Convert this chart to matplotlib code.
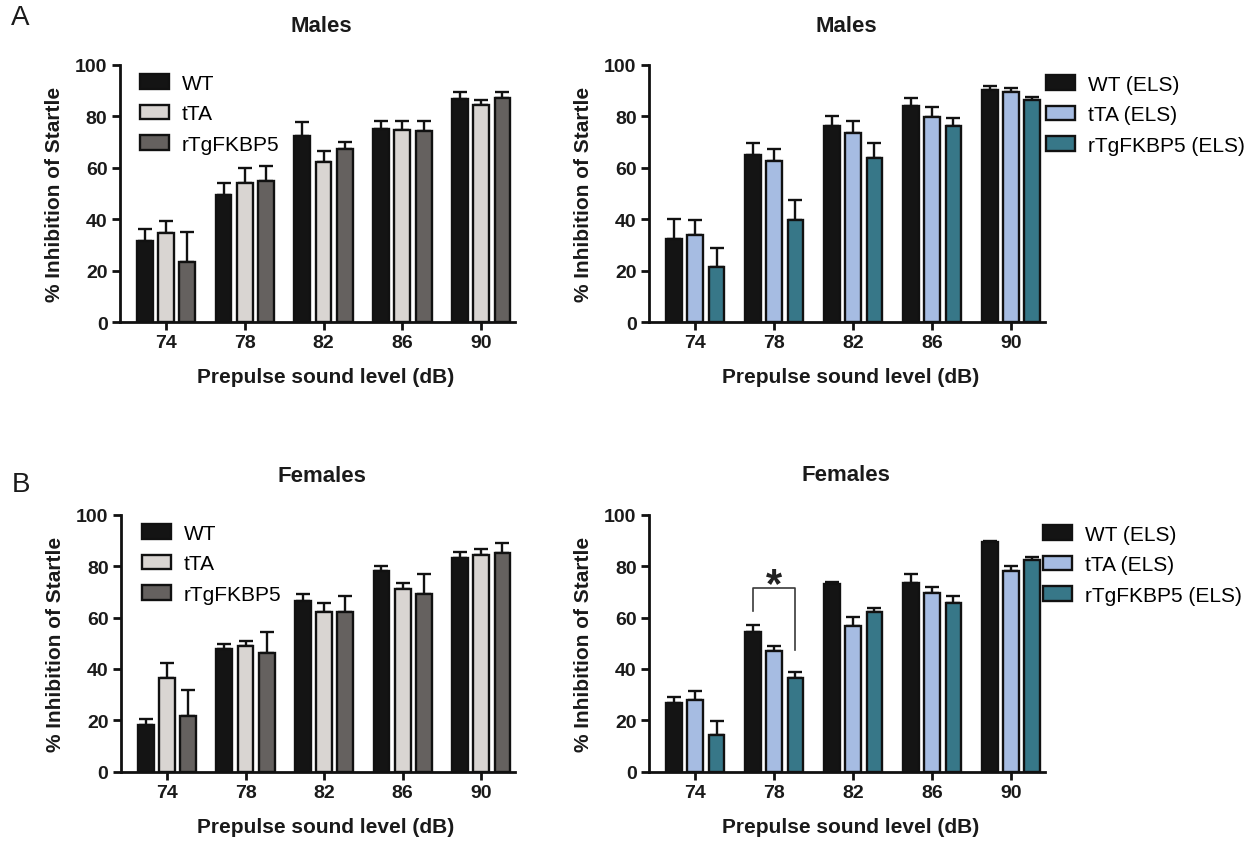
import numpy as np
import matplotlib
matplotlib.use("Agg")
import matplotlib.pyplot as plt
from matplotlib.patches import Patch

plt.rcParams['font.family'] = ['Liberation Sans', 'DejaVu Sans']

# ---------------- data ----------------
levels = ["74", "78", "82", "86", "90"]
groups_ctrl = ["WT", "tTA", "rTgFKBP5"]
groups_els = ["WT (ELS)", "tTA (ELS)", "rTgFKBP5 (ELS)"]

# Males (control)
m_wt = [31.4, 49.5, 72.4, 74.9, 86.7]
m_wt_err = [4.8, 4.4, 5.2, 3.1, 2.6]
m_tta = [34.5, 54.2, 62.0, 74.8, 84.3]
m_tta_err = [4.6, 5.8, 4.4, 3.2, 2.1]
m_rtg = [23.3, 54.7, 67.3, 74.3, 86.9]
m_rtg_err = [11.6, 6.1, 2.6, 3.7, 2.4]

# Males (ELS)
me_wt = [32.1, 64.9, 76.3, 84.1, 90.2]
me_wt_err = [8.0, 4.7, 3.9, 2.8, 1.6]
me_tta = [33.9, 62.7, 73.4, 79.8, 89.3]
me_tta_err = [5.9, 4.6, 4.9, 3.6, 1.5]
me_rtg = [21.3, 39.8, 63.6, 76.1, 86.3]
me_rtg_err = [7.4, 7.7, 5.9, 3.2, 1.3]

# Females (control)
f_wt = [18.2, 47.7, 66.4, 78.2, 83.0]
f_wt_err = [2.3, 2.1, 2.9, 2.0, 2.3]
f_tta = [36.3, 49.0, 62.3, 71.1, 84.3]
f_tta_err = [5.9, 2.0, 3.2, 2.3, 2.3]
f_rtg = [21.7, 46.2, 62.0, 69.1, 85.1]
f_rtg_err = [10.2, 8.3, 6.5, 7.9, 3.7]

# Females (ELS)
fe_wt = [26.6, 54.5, 73.0, 73.3, 89.2]
fe_wt_err = [2.6, 2.7, 0.7, 3.6, 0.7]
fe_tta = [28.0, 46.8, 56.8, 69.4, 78.2]
fe_tta_err = [3.5, 2.2, 3.3, 2.3, 1.7]
fe_rtg = [14.4, 36.4, 62.0, 65.5, 82.5]
fe_rtg_err = [5.4, 2.4, 1.6, 2.7, 1.2]

# significance bracket (Females ELS, 78 dB: WT vs rTgFKBP5)
sig_level_index = 1
sig_left_y, sig_top_y, sig_right_y = 62.6, 71.3, 47.3
sig_label = "*"

colors_ctrl = ["#141414", "#d9d5d2", "#65615f"]
colors_els = ["#141414", "#a6bce2", "#377788"]

# ---------------- figure ----------------
W, H = 1254, 845
fig = plt.figure(figsize=(W / 100, H / 100), dpi=100)


def px_axes(x0, x1, ytop, ybot):
    return fig.add_axes([x0 / W, 1 - ybot / H, (x1 - x0) / W, (ybot - ytop) / H])


offsets = [-0.27, 0.0, 0.27]
bw = 0.2


def panel(ax, series, errs, colors, labels, legend_px, xlabel_x):
    x = np.arange(len(levels))
    for s, e, c, off, lab in zip(series, errs, colors, offsets, labels):
        ax.errorbar(x + off, s, yerr=[np.zeros(len(s)), e], fmt='none',
                    ecolor='#111111', elinewidth=1.7, capsize=5, capthick=1.7, zorder=1)
        ax.bar(x + off, s, width=bw, color=c, edgecolor='#111111', linewidth=1.7,
               zorder=2, label=lab)
    ax.set_ylim(0, 100)
    ax.set_xlim(-0.585, 4.43)
    ax.set_yticks([0, 20, 40, 60, 80, 100])
    ax.set_xticks(x)
    ax.set_xticklabels(levels)
    for sp in ['top', 'right']:
        ax.spines[sp].set_visible(False)
    for sp in ['left', 'bottom']:
        ax.spines[sp].set_linewidth(2.0)
        ax.spines[sp].set_color('#111111')
    ax.tick_params(axis='both', direction='out', length=6, width=2.0, color='#111111',
                   labelsize=14, pad=3)
    for t in ax.get_xticklabels() + ax.get_yticklabels():
        t.set_fontweight('bold')
        t.set_color('#1a1a1a')
    ax.set_xlabel("Prepulse sound level (dB)", fontsize=15, fontweight='bold',
                  color='#1a1a1a', labelpad=12)
    ax.xaxis.set_label_coords(xlabel_x, -0.175)
    ax.set_ylabel("% Inhibition of Startle", fontsize=15, fontweight='bold',
                  color='#1a1a1a', labelpad=8)
    handles = [Patch(facecolor=c, edgecolor='#111111', linewidth=1.7) for c in colors]
    ax.legend(handles, labels, loc='upper left',
              bbox_to_anchor=(legend_px[0] / W, 1 - legend_px[1] / H),
              bbox_transform=fig.transFigure, frameon=False, fontsize=15,
              handlelength=1.4, handleheight=0.7, handletextpad=0.6,
              labelspacing=0.55, borderpad=0, borderaxespad=0)


ax1 = px_axes(120, 515, 65.7, 323)
panel(ax1, [m_wt, m_tta, m_rtg], [m_wt_err, m_tta_err, m_rtg_err], colors_ctrl,
      groups_ctrl, (140, 75), 0.52)
ax2 = px_axes(649, 1045, 65.7, 323)
panel(ax2, [me_wt, me_tta, me_rtg], [me_wt_err, me_tta_err, me_rtg_err], colors_els,
      groups_els, (1046, 76), 0.51)
ax3 = px_axes(121, 515, 515.7, 772.7)
panel(ax3, [f_wt, f_tta, f_rtg], [f_wt_err, f_tta_err, f_rtg_err], colors_ctrl,
      groups_ctrl, (142, 525), 0.52)
ax4 = px_axes(649, 1045, 515.7, 772.7)
panel(ax4, [fe_wt, fe_tta, fe_rtg], [fe_wt_err, fe_tta_err, fe_rtg_err], colors_els,
      groups_els, (1043, 526), 0.51)

# significance bracket
xl = sig_level_index + offsets[0]
xr = sig_level_index + offsets[2]
ax4.plot([xl, xl, xr, xr], [sig_left_y, sig_top_y, sig_top_y, sig_right_y],
         color='#3a3a3a', linewidth=1.2, zorder=3)
ax4.text((xl + xr) / 2, sig_top_y - 6.5, sig_label, ha='center', va='bottom',
         fontsize=30, fontweight='bold', color='#222222')

# titles & panel letters
fig.text(321 / W, 1 - 27 / H, "Males", ha='center', va='center', fontsize=16,
         fontweight='bold', color='#1a1a1a')
fig.text(846 / W, 1 - 27 / H, "Males", ha='center', va='center', fontsize=16,
         fontweight='bold', color='#1a1a1a')
fig.text(322 / W, 1 - 477 / H, "Females", ha='center', va='center', fontsize=16,
         fontweight='bold', color='#1a1a1a')
fig.text(846 / W, 1 - 476 / H, "Females", ha='center', va='center', fontsize=16,
         fontweight='bold', color='#1a1a1a')
fig.text(20 / W, 1 - 18 / H, "A", ha='center', va='center', fontsize=20, color='#1a1a1a')
fig.text(21 / W, 1 - 485 / H, "B", ha='center', va='center', fontsize=20, color='#1a1a1a')

fig.savefig("out.png", dpi=100, facecolor='white')
